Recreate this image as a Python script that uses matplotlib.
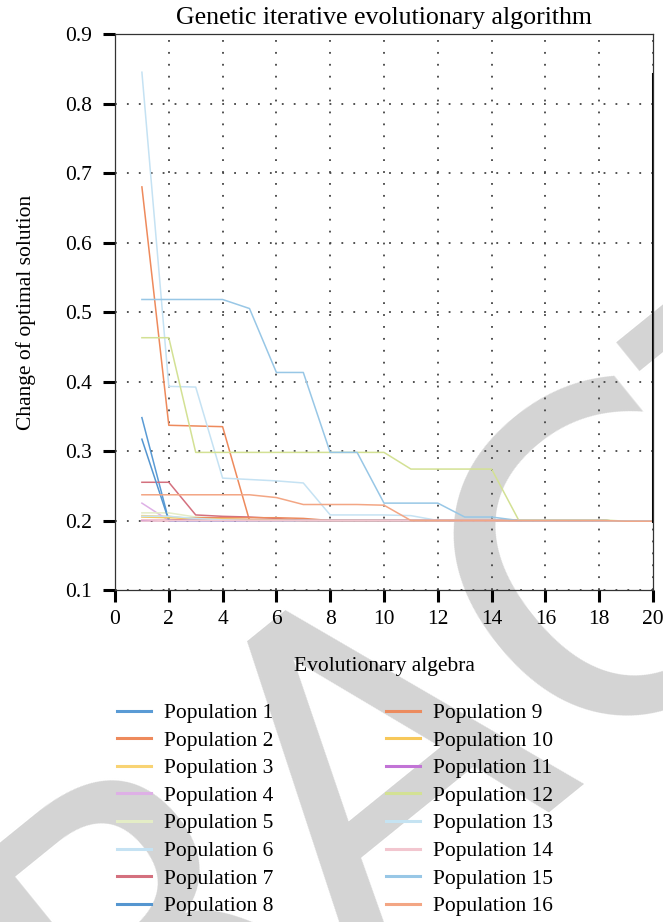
import matplotlib
matplotlib.use("Agg")
import matplotlib.pyplot as plt

plt.rcParams['font.family'] = ['Liberation Serif', 'DejaVu Serif']
plt.rcParams['font.size'] = 15.5

generations = list(range(1, 21))

pop1 = [0.348, 0.200, 0.200, 0.200, 0.200, 0.200, 0.200, 0.200, 0.200, 0.200,
        0.200, 0.200, 0.200, 0.200, 0.200, 0.200, 0.200, 0.200, 0.199, 0.199]
pop2 = [0.680, 0.337, 0.336, 0.335, 0.200, 0.200, 0.200, 0.200, 0.200, 0.200,
        0.200, 0.200, 0.200, 0.200, 0.200, 0.200, 0.200, 0.200, 0.199, 0.199]
pop3 = [0.207, 0.206, 0.202, 0.201, 0.200, 0.200, 0.200, 0.200, 0.200, 0.200,
        0.200, 0.200, 0.200, 0.200, 0.200, 0.200, 0.200, 0.200, 0.199, 0.199]
pop4 = [0.225, 0.200, 0.200, 0.200, 0.200, 0.200, 0.200, 0.200, 0.200, 0.200,
        0.200, 0.200, 0.200, 0.200, 0.200, 0.200, 0.200, 0.200, 0.199, 0.199]
pop5 = [0.211, 0.211, 0.205, 0.203, 0.201, 0.200, 0.200, 0.200, 0.200, 0.200,
        0.200, 0.200, 0.200, 0.200, 0.200, 0.200, 0.200, 0.200, 0.199, 0.199]
pop6 = [0.845, 0.393, 0.392, 0.261, 0.259, 0.257, 0.254, 0.208, 0.208, 0.208,
        0.207, 0.200, 0.200, 0.200, 0.200, 0.200, 0.200, 0.200, 0.199, 0.199]
pop7 = [0.255, 0.255, 0.208, 0.206, 0.205, 0.203, 0.200, 0.200, 0.200, 0.200,
        0.200, 0.200, 0.200, 0.200, 0.200, 0.200, 0.200, 0.200, 0.199, 0.199]
pop8 = [0.317, 0.200, 0.200, 0.200, 0.200, 0.200, 0.200, 0.200, 0.200, 0.200,
        0.200, 0.200, 0.200, 0.200, 0.200, 0.200, 0.200, 0.200, 0.199, 0.199]
pop9 = [0.200, 0.200, 0.204, 0.204, 0.204, 0.204, 0.203, 0.200, 0.200, 0.200,
        0.200, 0.200, 0.200, 0.200, 0.200, 0.200, 0.200, 0.200, 0.199, 0.199]
pop10 = [0.205, 0.204, 0.203, 0.202, 0.201, 0.201, 0.200, 0.200, 0.200, 0.200,
         0.200, 0.200, 0.200, 0.200, 0.200, 0.200, 0.200, 0.200, 0.199, 0.199]
pop11 = [0.200, 0.200, 0.200, 0.200, 0.200, 0.200, 0.200, 0.200, 0.200, 0.200,
         0.200, 0.200, 0.200, 0.200, 0.200, 0.200, 0.200, 0.200, 0.199, 0.199]
pop12 = [0.463, 0.463, 0.298, 0.298, 0.298, 0.298, 0.298, 0.298, 0.298, 0.298,
         0.274, 0.274, 0.274, 0.274, 0.201, 0.201, 0.201, 0.201, 0.199, 0.199]
pop13 = [0.206, 0.206, 0.203, 0.201, 0.200, 0.200, 0.200, 0.200, 0.200, 0.200,
         0.200, 0.200, 0.200, 0.200, 0.200, 0.200, 0.200, 0.200, 0.199, 0.199]
pop14 = [0.201, 0.200, 0.200, 0.200, 0.200, 0.200, 0.200, 0.200, 0.200, 0.200,
         0.200, 0.200, 0.200, 0.200, 0.200, 0.200, 0.200, 0.200, 0.199, 0.199]
pop15 = [0.518, 0.518, 0.518, 0.518, 0.505, 0.413, 0.413, 0.298, 0.298, 0.225,
         0.225, 0.225, 0.205, 0.205, 0.200, 0.200, 0.200, 0.200, 0.199, 0.199]
pop16 = [0.237, 0.237, 0.237, 0.237, 0.237, 0.233, 0.223, 0.223, 0.223, 0.222,
         0.200, 0.200, 0.200, 0.200, 0.200, 0.200, 0.200, 0.200, 0.199, 0.199]

populations = [pop1, pop2, pop3, pop4, pop5, pop6, pop7, pop8,
               pop9, pop10, pop11, pop12, pop13, pop14, pop15, pop16]
labels = ['Population %d' % (i + 1) for i in range(16)]
colors = ['#5a9bd5', '#ee8a5c', '#f8d373', '#deb0e6', '#e4edc6', '#c5e2f3',
          '#d4707e', '#5596d0', '#ec8b5e', '#f7c85a', '#c274d6', '#d3e194',
          '#c5e3f2', '#f2c6cf', '#98c7e6', '#f3a684']

fig = plt.figure(figsize=(6.63, 9.22), dpi=100)
ax = fig.add_axes([115 / 663, 1 - 590 / 922, 538 / 663, 556 / 922])
ax.patch.set_alpha(0)

# grey stamp behind the figure
fig.text(402 / 663, 1 - 740 / 922, 'RETRACTED', fontsize=318,
         family='DejaVu Sans', color='#d4d4d4', rotation=39,
         rotation_mode='anchor', ha='center', va='center', zorder=-5)

for vals, lab, col in zip(populations, labels, colors):
    ax.plot(generations, vals, color=col, lw=1.1, label=lab)

ax.set_xlim(0, 20)
ax.set_ylim(0.1, 0.9)
ax.set_xticks(range(0, 21, 2))
ax.set_yticks([0.1, 0.2, 0.3, 0.4, 0.5, 0.6, 0.7, 0.8, 0.9])
ax.grid(True, color='#444444', lw=1.3, linestyle=(0, (1, 5.6)))
ax.tick_params(direction='out', length=8.6, width=2.2, color='black', pad=6)
ax.tick_params(axis='y', pad=8)
for s in ax.spines.values():
    s.set_color('#333333')
    s.set_linewidth(0.9)
ax.axvline(20, ymin=0.125, ymax=0.928, color='black', lw=2.2)

ax.set_title('Genetic iterative evolutionary algorithm', pad=7)
ax.set_xlabel('Evolutionary algebra', labelpad=20)
ax.set_ylabel('Change of optimal solution', labelpad=21)

leg = fig.legend(loc='upper left', bbox_to_anchor=(117 / 663, 1 - 703 / 922),
                 ncol=2, frameon=False, borderpad=0, borderaxespad=0,
                 handlelength=1.6, handletextpad=0.6, columnspacing=5.2,
                 labelspacing=0.35)
for ln in leg.get_lines():
    ln.set_linewidth(2.2)

fig.savefig('out.png', dpi=100)
